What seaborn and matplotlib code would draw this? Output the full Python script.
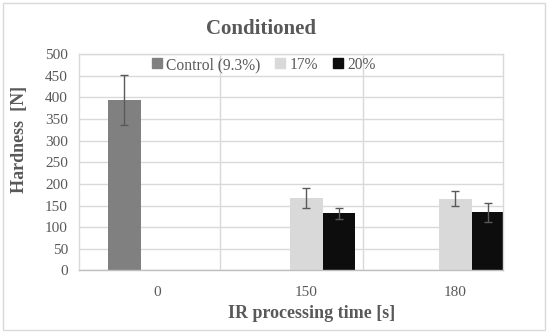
import pandas as pd
import matplotlib
matplotlib.use("Agg")
import matplotlib.pyplot as plt
from matplotlib.patches import Rectangle
from matplotlib.lines import Line2D
import seaborn as sns

times = ["0", "150", "150", "180", "180"]
groups = ["Control (9.3%)", "17%", "20%", "17%", "20%"]
hardness = [394, 168, 132, 166, 134]
errors = [57, 23, 12, 18, 21]

hue_order = ["Control (9.3%)", "17%", "20%"]
time_order = ["0", "150", "180"]
palette = {"Control (9.3%)": "#808080", "17%": "#d9d9d9", "20%": "#0d0d0d"}

df = pd.DataFrame({"Time": times, "Group": groups, "Hardness": hardness, "Err": errors})

sns.set_theme(style="whitegrid")
plt.rcParams["font.family"] = ["Liberation Serif", "DejaVu Serif"]
text_color = "#595959"
grid_color = "#d9d9d9"

fig = plt.figure(figsize=(5.5, 3.33), dpi=100)
ax = fig.add_axes([0.1436, 0.1877, 0.7709, 0.6501])

bar_w = 0.66
sns.barplot(
    data=df, x="Time", y="Hardness", hue="Group",
    order=time_order, hue_order=hue_order, palette=palette,
    width=bar_w, errorbar=None, saturation=1, linewidth=0,
    ax=ax, legend=False,
)

# error bars at each bar centre
slot = bar_w / len(hue_order)
for _, row in df.iterrows():
    xc = time_order.index(row["Time"]) + (hue_order.index(row["Group"]) - 1) * slot
    ax.errorbar(xc, row["Hardness"], yerr=row["Err"], fmt="none",
                ecolor=text_color, elinewidth=1, capsize=3, capthick=1, zorder=5)

ax.set_xlim(-0.523, 2.32)
ax.set_ylim(0, 500)
ax.set_yticks(range(0, 501, 50))
ax.grid(axis="y", color=grid_color, linewidth=1)
ax.grid(axis="x", visible=False)
for xv in [0.42, 1.38]:
    ax.axvline(xv, color=grid_color, linewidth=1, zorder=0)
ax.set_axisbelow(True)
for side, sp in ax.spines.items():
    sp.set_color(grid_color)
    sp.set_linewidth(1)
ax.spines["bottom"].set_color("#bfbfbf")

ax.tick_params(axis="y", length=0, pad=8, labelsize=11, labelcolor=text_color)
ax.tick_params(axis="x", length=0, pad=11, labelsize=11, labelcolor=text_color)
ax.set_xlabel("")
ax.set_ylabel("")

fig.text(0.475, 0.913, "Conditioned", ha="center", va="center",
         fontsize=15, fontweight="bold", color=text_color)
fig.text(0.566, 0.06, "IR processing time [s]", ha="center", va="center",
         fontsize=13, fontweight="bold", color=text_color)
fig.text(0.036, 0.58, "Hardness  [N]", ha="center", va="center", rotation=90,
         fontsize=13, fontweight="bold", color=text_color)

handles = [Line2D([], [], marker="s", linestyle="none", markersize=7,
                  markerfacecolor=palette[h], markeredgecolor=palette[h]) for h in hue_order]
fig.legend(handles, hue_order, loc="center", bbox_to_anchor=(0.48, 0.805), ncol=3,
           frameon=False, fontsize=11.2, handlelength=0.6, handletextpad=0.3,
           columnspacing=1.0, labelcolor=text_color)

fig.patches.append(Rectangle((0.006, 0.01), 0.984, 0.98, transform=fig.transFigure,
                             fill=False, edgecolor=grid_color, linewidth=1))

fig.savefig("out.png", dpi=100)
